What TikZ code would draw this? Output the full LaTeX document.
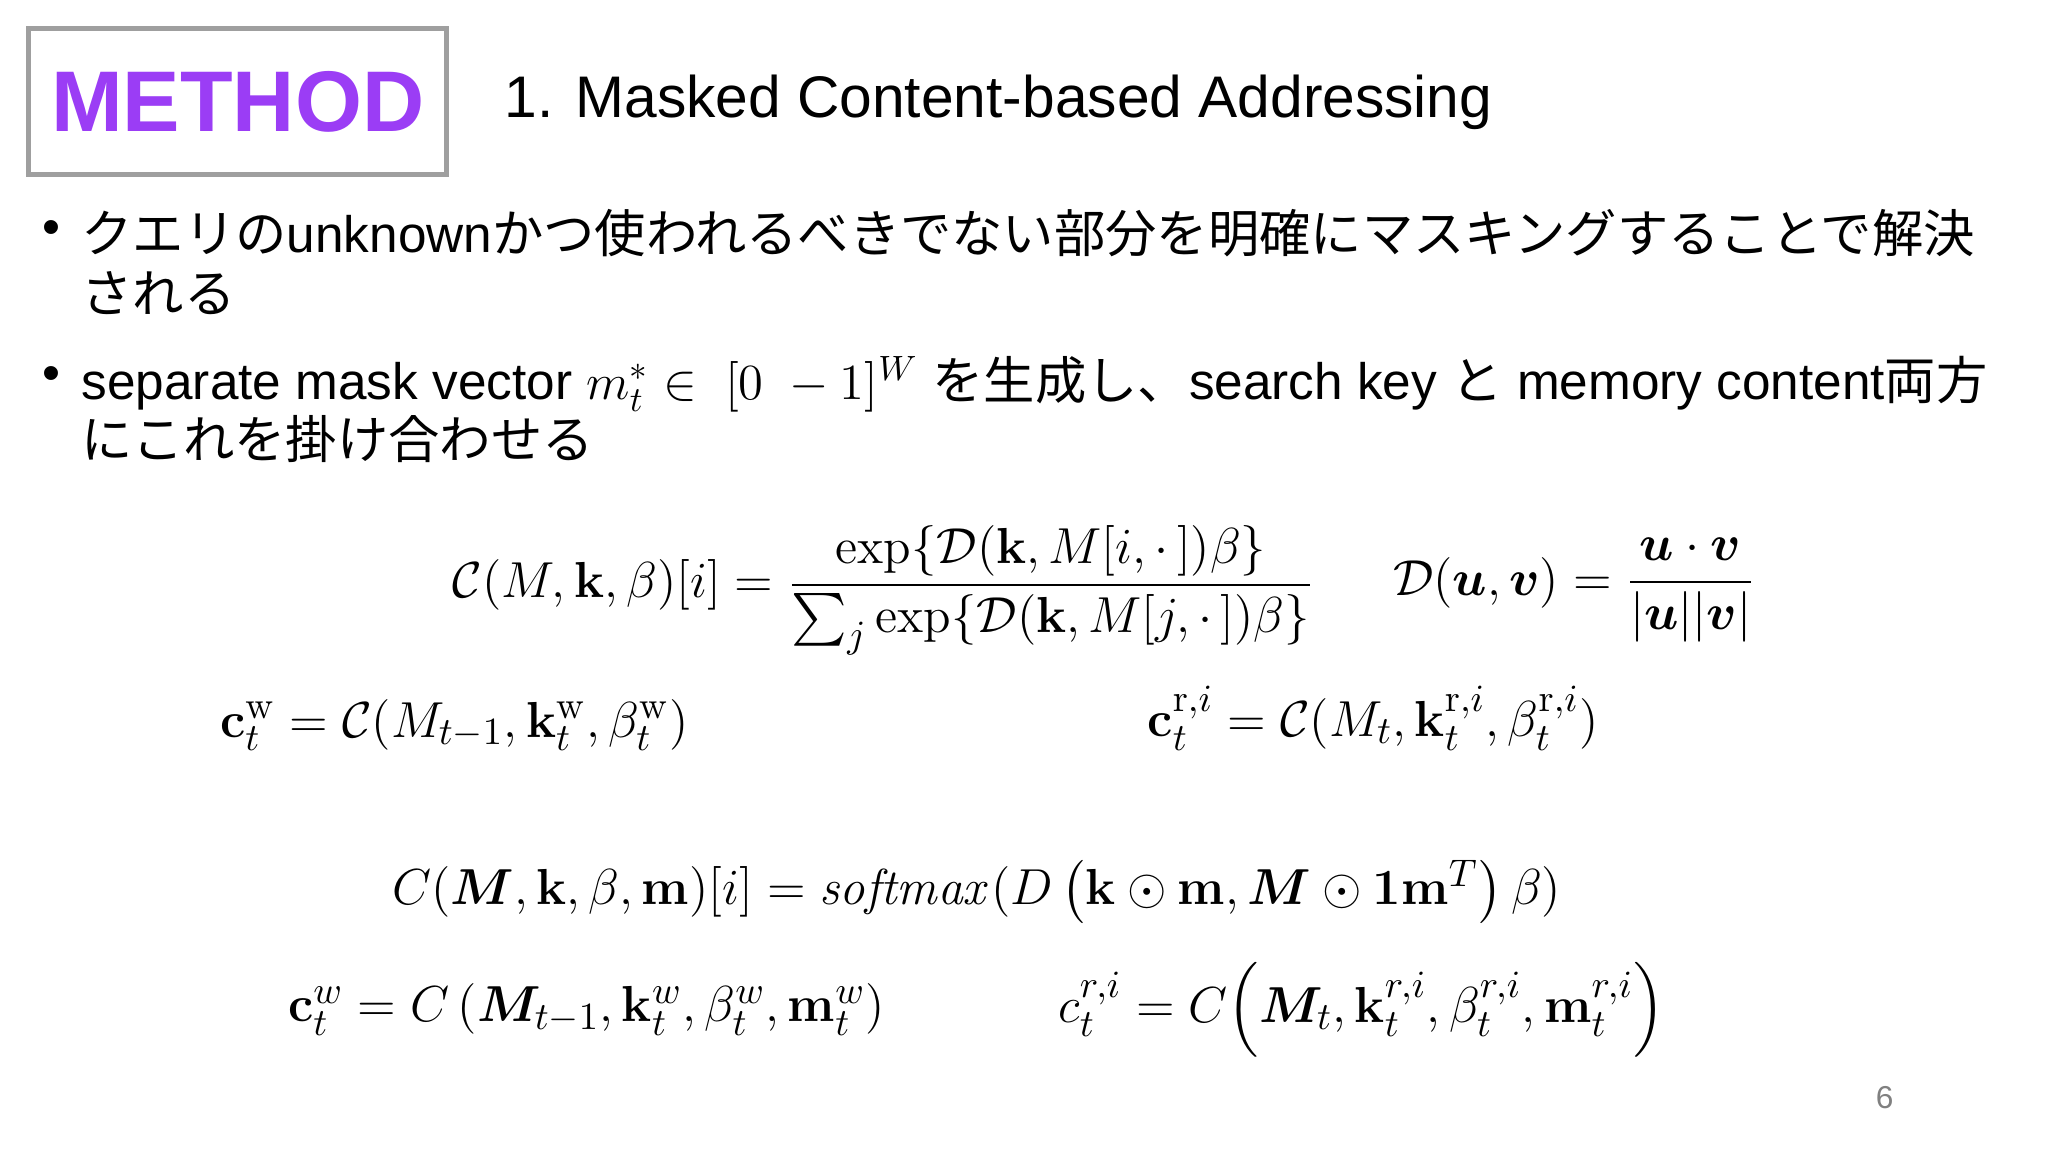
\documentclass[tikz,border=0pt]{standalone}
\usepackage{amsmath,amssymb,bm}
\usepackage[no-math]{fontspec}
\setmainfont{Liberation Sans}
\newfontfamily\jp{Noto Sans CJK JP}
\definecolor{purp}{HTML}{9B3DF5}
\begin{document}
\begin{tikzpicture}[x=0.01306cm,y=-0.01306cm,
  bul/.style={anchor=north west,inner sep=0pt,font=\fontsize{14.6pt}{17pt}\selectfont,align=left},
  eq/.style={inner sep=0pt,font=\fontsize{15pt}{18pt}\selectfont}]
\useasboundingbox[fill=white] (0,0) rectangle (1568,882);
\node[draw=gray!75,line width=1.5pt,inner sep=0pt,
  minimum width=4.18cm,minimum height=1.46cm,anchor=north west,
  text=purp,font=\bfseries\fontsize{24.5pt}{28pt}\selectfont] (title) at (20,20) {METHOD};
\node[anchor=west,inner sep=0pt,font=\fontsize{16.7pt}{20pt}\selectfont] (head) at (386,78) {1. Masked Content-based Addressing};
\node[bul] (b1dot) at (32,168) {•};
\node[bul] (b1) at (62,160) {{\jp クエリの}unknown{\jp かつ使われるべきでない部分を明確にマスキングすることで解決}\\{\jp される}};
\node[bul] (b2dot) at (32,280) {•};
\node[bul] (b2) at (62,272) {separate mask vector $m_t^*\in\ [0\ -1]^W$ {\jp を生成し、}search key {\jp と} memory content{\jp 両方}\\{\jp にこれを掛け合わせる}};
\node[eq,anchor=west] (e1) at (346,452) {$\mathcal{C}(M,\mathbf{k},\beta)[i]=\dfrac{\exp\{\mathcal{D}(\mathbf{k},M[i,\cdot\,])\beta\}}{\sum_j\exp\{\mathcal{D}(\mathbf{k},M[j,\cdot\,])\beta\}}$};
\node[eq,anchor=west] (e2) at (1066,452) {$\mathcal{D}(\bm{u},\bm{v})=\dfrac{\bm{u}\cdot\bm{v}}{|\bm{u}||\bm{v}|}$};
\node[eq,anchor=west] (e3) at (168,555) {$\mathbf{c}_t^{\mathrm{w}}=\mathcal{C}(M_{t-1},\mathbf{k}_t^{\mathrm{w}},\beta_t^{\mathrm{w}})$};
\node[eq,anchor=west] (e4) at (878,550) {$\mathbf{c}_t^{\mathrm{r},i}=\mathcal{C}(M_t,\mathbf{k}_t^{\mathrm{r},i},\beta_t^{\mathrm{r},i})$};
\node[eq,anchor=west] (e5) at (300,683) {$C(\bm{M},\mathbf{k},\beta,\mathbf{m})[i]=\mathit{softmax}(D\left(\mathbf{k}\odot\mathbf{m},\bm{M}\odot\mathbf{1}\mathbf{m}^T\right)\beta)$};
\node[eq,anchor=west] (e6) at (220,773) {$\mathbf{c}_t^{w}=C\left(\bm{M}_{t-1},\mathbf{k}_t^{w},\beta_t^{w},\mathbf{m}_t^{w}\right)$};
\node[eq,anchor=west] (e7) at (810,773) {$c_t^{r,i}=C\Big(\bm{M}_t,\mathbf{k}_t^{r,i},\beta_t^{r,i},\mathbf{m}_t^{r,i}\Big)$};
\node[text=gray,font=\fontsize{9pt}{10pt}\selectfont] (pg) at (1443,840) {6};
\end{tikzpicture}
\end{document}
